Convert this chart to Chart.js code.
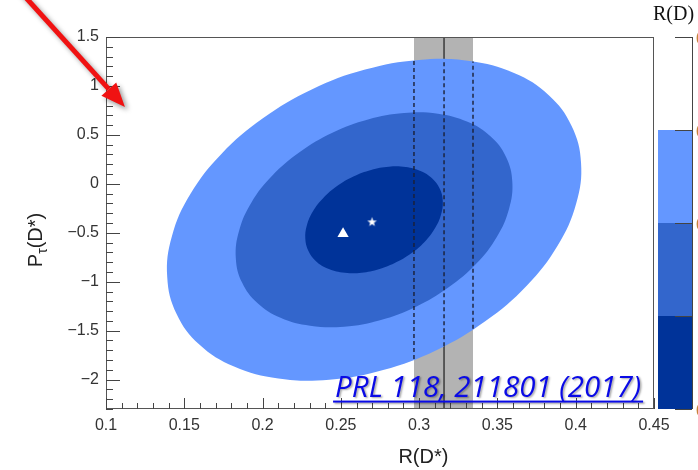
<!DOCTYPE html>
<html><head><meta charset="utf-8">
<script src="https://cdn.jsdelivr.net/npm/chart.js@4/dist/chart.umd.min.js"></script>
<style>html,body{margin:0;padding:0;background:#fff;}#wrap{width:698px;height:470px;}</style>
</head><body><div id="wrap"><canvas id="c" width="698" height="470"></canvas></div>
<script>
// ---------- data ----------
const xRange = [0.1, 0.45];
const yRange = [-2.3, 1.5];
const xTickValues = [0.1, 0.15, 0.2, 0.25, 0.3, 0.35, 0.4, 0.45];
const yTickValues = [-2, -1.5, -1, -0.5, 0, 0.5, 1, 1.5];

// contour outlines [R(D*), P_tau(D*)], going round each region
const outerContour = [[0.3973,0.594],[0.4034,0.216],[0.4003,-0.201],[0.3885,-0.630],[0.3687,-1.040],[0.3422,-1.404],[0.3110,-1.699],[0.2770,-1.902],[0.2426,-2.001],[0.2101,-1.989],[0.1818,-1.866],[0.1596,-1.641],[0.1451,-1.329],[0.1391,-0.951],[0.1421,-0.535],[0.1539,-0.105],[0.1737,0.305],[0.2002,0.669],[0.2314,0.964],[0.2655,1.167],[0.2999,1.266],[0.3323,1.254],[0.3606,1.131],[0.3828,0.906]];
const middleContour = [[0.3555,0.275],[0.3595,0.023],[0.3574,-0.256],[0.3496,-0.542],[0.3364,-0.817],[0.3186,-1.060],[0.2977,-1.257],[0.2750,-1.393],[0.2521,-1.459],[0.2304,-1.450],[0.2115,-1.369],[0.1967,-1.218],[0.1869,-1.009],[0.1829,-0.757],[0.1850,-0.479],[0.1928,-0.192],[0.2061,0.082],[0.2238,0.325],[0.2446,0.522],[0.2674,0.658],[0.2904,0.724],[0.3120,0.716],[0.3309,0.633],[0.3457,0.483]];
const innerContour = [[0.3131,-0.048],[0.3151,-0.174],[0.3140,-0.312],[0.3101,-0.454],[0.3036,-0.591],[0.2948,-0.712],[0.2844,-0.809],[0.2731,-0.877],[0.2617,-0.910],[0.2509,-0.906],[0.2415,-0.865],[0.2341,-0.790],[0.2293,-0.686],[0.2273,-0.561],[0.2283,-0.423],[0.2322,-0.280],[0.2388,-0.144],[0.2476,-0.023],[0.2580,0.075],[0.2693,0.142],[0.2807,0.175],[0.2915,0.171],[0.3009,0.130],[0.3082,0.056]];

// experimental band on R(D*)
const bandEdges = [0.2967, 0.3344];
const bandCentre = 0.3159;
// dashed lines: [x, yLow, yHigh]
const dashLines = [[0.2967,-1.79,1.265],[0.3159,-1.66,1.272],[0.3344,-1.48,1.25]];
// markers
const trianglePoint = [0.2514, -0.510];
const starPoint = [0.2699, -0.388];
// colour scale (top to bottom)
const colourLevels = ['#ffffff', '#6497ff', '#3366cc', '#003399'];
const colourTickLabels = ['0', '0', '0', '', '0'];
const noteText = 'PRL 118, 211801 (2017)';
const notePos = [0.2463, -2.173];
const arrowFrom = [0.0378, 2.096];
const arrowTo = [0.1121, 0.786];

// ---------- chart ----------
const pts = a => a.map(([x, y]) => ({x, y}));
// closed outline: wrap one point on each side so the curve is smooth at the join
const loop = c => pts([c[c.length - 1], ...c, c[0], c[1]]);
const fmt = v => String(v).replace('-', '\u2212');

function starCanvas() {
  const c = document.createElement('canvas');
  c.width = 11; c.height = 11;
  const g = c.getContext('2d');
  g.fillStyle = '#ffffff';
  g.beginPath();
  for (let i = 0; i < 10; i++) {
    const r = i % 2 ? 2.0 : 5.0;
    const a = -Math.PI / 2 + i * Math.PI / 5;
    const px = 5.5 + r * Math.cos(a), py = 5.8 + r * Math.sin(a);
    i ? g.lineTo(px, py) : g.moveTo(px, py);
  }
  g.closePath(); g.fill();
  return c;
}

const base = {pointRadius: 0, borderWidth: 0, borderColor: 'transparent', tension: 0.4};
const datasets = [
  {...base, data: pts([[bandEdges[0], yRange[1]], [bandEdges[1], yRange[1]]]), fill: 'start', backgroundColor: '#b3b3b3', tension: 0, order: 30},
  {...base, data: pts([[bandCentre, yRange[0]], [bandCentre, yRange[1]]]), borderColor: '#3a3a3a', borderWidth: 1.5, tension: 0, fill: false, order: 29},
  {...base, data: loop(outerContour), fill: 'shape', backgroundColor: colourLevels[1], order: 20},
  {...base, data: loop(middleContour), fill: 'shape', backgroundColor: colourLevels[2], order: 15},
  {...base, data: loop(innerContour), fill: 'shape', backgroundColor: colourLevels[3], order: 10},
];
dashLines.forEach(([x, lo, hi]) => datasets.push({...base, data: pts([[x, lo], [x, hi]]), borderColor: '#1b2035', borderWidth: 1.4, borderDash: [4, 3], tension: 0, fill: false, order: 5}));
datasets.push({type: 'scatter', data: pts([trianglePoint]), pointStyle: 'triangle', pointRadius: 6.5, backgroundColor: '#ffffff', borderColor: '#ffffff', borderWidth: 0, order: 2});
datasets.push({type: 'scatter', data: pts([starPoint]), pointStyle: starCanvas(), pointRadius: 5, order: 1});

const deco = {
  id: 'deco',
  afterDraw(chart) {
    const {ctx, chartArea: a, scales: {x, y}} = chart;
    ctx.save();
    // frame
    ctx.strokeStyle = '#555'; ctx.lineWidth = 1;
    ctx.strokeRect(a.left + 0.5, a.top + 0.5, a.right - a.left - 1, a.bottom - a.top - 1);
    // inside ticks
    ctx.strokeStyle = '#444';
    ctx.beginPath();
    for (let i = 100; i <= 450; i += 10) {
      const px = Math.round(x.getPixelForValue(i / 1000)) + 0.5;
      const len = i % 50 === 0 ? 11 : 6;
      ctx.moveTo(px, a.bottom); ctx.lineTo(px, a.bottom - len);
    }
    for (let i = -23; i <= 15; i++) {
      const py = Math.round(y.getPixelForValue(i / 10)) + 0.5;
      const len = i % 5 === 0 ? 14 : 7;
      ctx.moveTo(a.left, py); ctx.lineTo(a.left + len, py);
    }
    ctx.stroke();

    // axis titles
    ctx.fillStyle = '#222';
    ctx.font = '20px "Liberation Sans", Arial, sans-serif';
    ctx.textAlign = 'center'; ctx.textBaseline = 'alphabetic';
    ctx.fillText('R(D*)', x.getPixelForValue(0.3027), 463);
    // y title with subscript
    ctx.save();
    ctx.translate(42, 240);
    ctx.rotate(-Math.PI / 2);
    ctx.textAlign = 'left';
    const f1 = '20px "Liberation Sans", Arial, sans-serif', f2 = '14px "Liberation Sans", Arial, sans-serif';
    ctx.font = f1; const wP = ctx.measureText('P').width, wR = ctx.measureText('(D*)').width;
    ctx.font = f2; const wT = ctx.measureText('\u03c4').width;
    let sx = -(wP + wT + wR) / 2;
    ctx.font = f1; ctx.fillText('P', sx, 0); sx += wP;
    ctx.font = f2; ctx.fillText('\u03c4', sx, 5); sx += wT;
    ctx.font = f1; ctx.fillText('(D*)', sx, 0);
    ctx.restore();

    // colour scale
    const cx0 = a.right + 4, cx1 = a.right + 38;
    const h = (a.bottom - a.top) / colourLevels.length;
    colourLevels.forEach((c, i) => { ctx.fillStyle = c; ctx.fillRect(cx0, a.top + i * h, cx1 - cx0, h); });
    ctx.strokeStyle = '#444'; ctx.lineWidth = 1;
    ctx.beginPath();
    ctx.moveTo(cx1 + 0.5, a.top); ctx.lineTo(cx1 + 0.5, a.bottom);
    for (let i = 0; i <= colourLevels.length; i++) {
      const py = Math.round(a.top + i * h) + 0.5;
      ctx.moveTo(cx1 - 17, py); ctx.lineTo(cx1, py);
    }
    ctx.stroke();
    ctx.fillStyle = '#c8823a'; ctx.font = '16px "Liberation Sans", Arial, sans-serif';
    ctx.textAlign = 'left'; ctx.textBaseline = 'middle';
    colourTickLabels.forEach((t, i) => { if (t) ctx.fillText(t, cx1 + 4, a.top + i * h + 3); });
    ctx.fillStyle = '#111'; ctx.font = '20px "Liberation Serif", "Times New Roman", serif';
    ctx.textBaseline = 'alphabetic';
    ctx.fillText('R(D)', a.right - 1, 20);

    // note
    ctx.save();
    ctx.font = 'italic 29.5px "Open Sans", sans-serif';
    ctx.fillStyle = '#0a0ae6';
    ctx.shadowColor = 'rgba(0,0,0,0.35)'; ctx.shadowOffsetX = 1.5; ctx.shadowOffsetY = 1.5; ctx.shadowBlur = 2;
    const nx = x.getPixelForValue(notePos[0]), ny = y.getPixelForValue(notePos[1]);
    ctx.textAlign = 'left'; ctx.textBaseline = 'alphabetic';
    ctx.fillText(noteText, nx, ny);
    const tw = ctx.measureText(noteText).width;
    ctx.fillRect(nx - 2, ny + 4, tw + 4, 2);
    ctx.restore();

    // red arrow
    ctx.save();
    const x0 = x.getPixelForValue(arrowFrom[0]), y0 = y.getPixelForValue(arrowFrom[1]);
    const x1 = x.getPixelForValue(arrowTo[0]), y1 = y.getPixelForValue(arrowTo[1]);
    const L = Math.hypot(x1 - x0, y1 - y0), ux = (x1 - x0) / L, uy = (y1 - y0) / L;
    const hl = 24, hw = 10;
    ctx.shadowColor = 'rgba(0,0,0,0.4)'; ctx.shadowOffsetX = 3; ctx.shadowOffsetY = 3; ctx.shadowBlur = 5;
    ctx.fillStyle = '#f01212'; ctx.strokeStyle = '#f01212'; ctx.lineWidth = 5;
    ctx.beginPath(); ctx.moveTo(x0, y0); ctx.lineTo(x1 - ux * hl, y1 - uy * hl); ctx.stroke();
    ctx.beginPath();
    ctx.moveTo(x1, y1);
    ctx.lineTo(x1 - ux * hl - uy * hw, y1 - uy * hl + ux * hw);
    ctx.lineTo(x1 - ux * hl + uy * hw, y1 - uy * hl - ux * hw);
    ctx.closePath(); ctx.fill();
    ctx.restore();
    ctx.restore();
  }
};

new Chart(document.getElementById('c'), {
  type: 'scatter',
  data: {datasets},
  options: {
    responsive: false, animation: false, devicePixelRatio: 1,
    showLine: true,
    layout: {padding: {top: 37, right: 44, left: 0, bottom: 0}},
    plugins: {legend: {display: false}, tooltip: {enabled: false}},
    scales: {
      x: {
        type: 'linear', min: xRange[0], max: xRange[1],
        grid: {display: false, drawTicks: false}, border: {display: false},
        afterBuildTicks: s => { s.ticks = xTickValues.map(v => ({value: v})); },
        afterFit: s => { s.height = 61; },
        ticks: {autoSkip: false, maxRotation: 0, padding: 7, color: '#333', font: {family: '"Liberation Sans", Arial, sans-serif', size: 16}, callback: v => fmt(v)}
      },
      y: {
        type: 'linear', min: yRange[0], max: yRange[1],
        grid: {display: false, drawTicks: false}, border: {display: false},
        afterBuildTicks: s => { s.ticks = yTickValues.map(v => ({value: v})); },
        afterFit: s => { s.width = 106; },
        ticks: {autoSkip: false, padding: 7, color: '#333', font: {family: '"Liberation Sans", Arial, sans-serif', size: 16}, callback: v => fmt(v)}
      }
    }
  },
  plugins: [deco]
});
</script></body></html>
